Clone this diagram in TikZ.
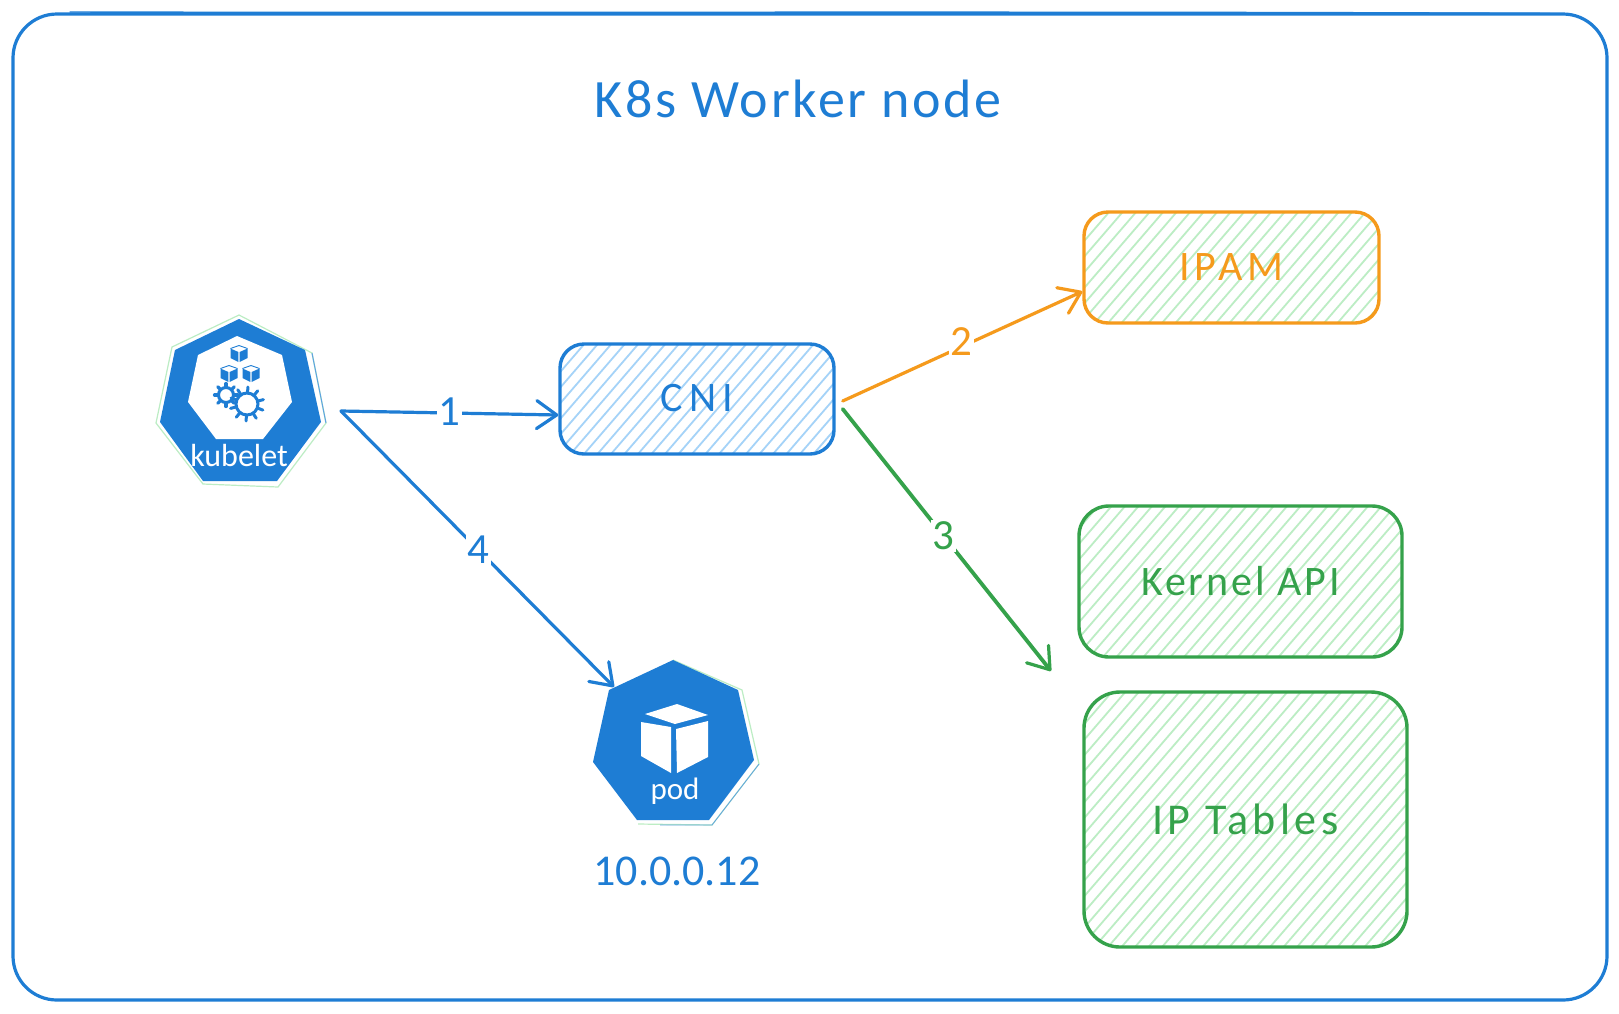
\documentclass[tikz,border=0pt]{standalone}
\usepackage{fontspec}
\setmainfont{Carlito}
\usetikzlibrary{arrows.meta}
\definecolor{cblue}{HTML}{1E7DD4}
\definecolor{corange}{HTML}{F59A1C}
\definecolor{cgreen}{HTML}{35A24B}
\definecolor{hblue}{HTML}{A5D3F8}
\definecolor{hgreen}{HTML}{BCEDC4}
\newcommand{\hfs}[2]{\fontsize{#1}{#1}\selectfont\addfontfeature{LetterSpace=#2}}
\tikzset{
  hatch/.style={path picture={
    \foreach \i in {-300,-286.5,...,420}
      \draw[#1,line width=1.8pt] ([xshift=\i pt]path picture bounding box.south west) -- ++(500pt,580pt);
  }},
  hbox/.style n args={4}{draw=#1,text=#1,line width=3.4pt,rounded corners=#4,inner sep=0pt,
    minimum width=#2,minimum height=#3},
  conn/.style={line width=3.2pt,line cap=round,-{Straight Barb[length=20pt,width=28pt,line width=3.2pt,round]}},
  num/.style={fill=white,inner sep=1.5pt,font=\hfs{43}{0}},
  kcube/.pic={
    \fill[cblue] (-8.5,-4.5) -- (-0.6,-1) -- (-0.6,9) -- (-8.5,5) -- cycle;
    \fill[cblue] (0.6,-1) -- (8.5,-4.5) -- (8.5,5) -- (0.6,9) -- cycle;
    \draw[cblue,line width=0.9pt,line join=round] (-8.5,-4.5) -- (0,-7.5) -- (8.5,-4.5);
  },
  smallgear/.pic={
    \draw[cblue,line width=3pt] (0,0) circle (7.5pt);
    \foreach \a in {0,45,...,315}
      \draw[cblue,line width=3.2pt,line cap=round] (\a:7.5pt) -- (\a:11.5pt);
  },
  biggear/.pic={
    \draw[cblue,line width=3pt] (0,0) circle (11pt);
    \foreach \a in {15,51,...,350}
      \draw[cblue,line width=3pt,line cap=round] (\a:11pt) -- (\a:17pt);
  },
}
\begin{document}
\begin{tikzpicture}[x=1pt,y=-1pt]
\useasboundingbox (0,0) rectangle (1619,1013);
\fill[white] (0,0) rectangle (1619,1013);

% frame
\node[draw=cblue,line width=3.2pt,rounded corners=44pt,minimum width=1594pt,minimum height=986pt,inner sep=0pt] (frame) at (810,507) {};
\draw[cblue,line width=1.4pt,line cap=round] (70,12) .. controls (500,13) and (1100,11) .. (1550,13.5);

% title
\node[text=cblue,font=\hfs{54}{5},inner sep=0pt] (title) at (798,99) {K8s Worker node};

% boxes
\node[hbox={cblue}{274pt}{110pt}{24pt},hatch=hblue,font=\hfs{42}{15}] (cni) at (697,399) {\raisebox{3pt}{CNI}};
\node[hbox={corange}{295pt}{111pt}{24pt},hatch=hgreen,font=\hfs{42}{12}] (ipam) at (1231.5,267.5) {IPAM};
\node[hbox={cgreen}{323pt}{151pt}{30pt},hatch=hgreen,font=\hfs{42}{7}] (kernel) at (1240.5,581.5) {Kernel API};
\node[hbox={cgreen}{323pt}{255pt}{36pt},hatch=hgreen,font=\hfs{44}{10}] (iptables) at (1245.5,819.5) {IP Tables};

% kubelet
\draw[hgreen,line width=1.2pt] (239,315) -- (312,353) -- (326,423) -- (278,487) -- (203,484) -- (156,423) -- (172,347) -- cycle;
\draw[cblue!70,line width=1pt] (312,353) -- (326,423);
\fill[cblue] (239,319) -- (305,350) -- (321,422) -- (277,481) -- (203,481) -- (160,422) -- (175,350) -- cycle;
\fill[white] (237,336) -- (282,355) -- (292,402) -- (263,439) -- (216,439) -- (188,402) -- (198,355) -- cycle;
\pic at (239,353) {kcube};
\pic at (229,373) {kcube};
\pic at (251,373) {kcube};
\pic at (226,395) {smallgear};
\pic at (247,404) {biggear};
\node[text=white,font=\hfs{32}{0},inner sep=0pt] (kubelet) at (239,455) {kubelet};
\coordinate (kubout) at (341,411);

% pod
\draw[hgreen,line width=1.2pt] (673,660) -- (742,690) -- (759,764) -- (712,825) -- (638,824);
\draw[cblue!70,line width=0.8pt] (759,764) -- (712,825) -- (660,825);
\fill[cblue] (673,660) -- (738,690) -- (754,760) -- (709,820) -- (637,820) -- (593,762) -- (609,690) -- cycle;
\fill[white] (677,704) -- (708,715) -- (675,724) -- (645,714) -- cycle;
\fill[white] (641,722) -- (671,727) -- (671,773) -- (641,756) -- cycle;
\fill[white] (676,729) -- (708,721) -- (708,757) -- (677,773) -- cycle;
\node[text=white,font=\hfs{31}{0},inner sep=0pt] (podtxt) at (675,791) {pod};
\coordinate (podin) at (614,687);
\node[text=cblue,font=\hfs{44}{0},inner sep=0pt] (ip) at (677,871) {10.0.0.12};

% connectors
\draw[conn,cblue] (kubout) -- ([yshift=-16pt]cni.west) node[num,text=cblue,pos=0.5,yshift=1pt] (n1) {1};
\draw[conn,cblue] (kubout) -- (podin) node[num,text=cblue,pos=0.505,yshift=1pt] (n4) {4};
\draw[conn,corange] ([xshift=7pt,yshift=-2pt]cni.east) -- ([yshift=-24pt]ipam.west) node[num,text=corange,pos=0.495,yshift=5pt] (n2) {2};
\coordinate (kernin) at (1051,671);
\draw[conn,cgreen,line width=3.8pt] ([xshift=7pt,yshift=-10pt]cni.east) -- (kernin) node[num,text=cgreen,pos=0.485] (n3) {3};
\end{tikzpicture}
\end{document}
